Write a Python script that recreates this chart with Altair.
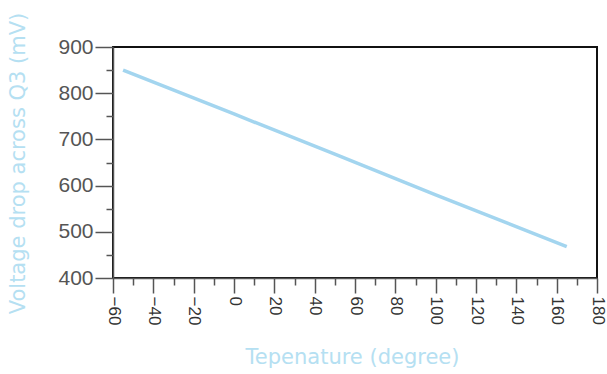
import altair as alt
import pandas as pd

# Temperature sweep (degrees) and the voltage drop across Q3 (mV)
temperature = [-55, 0, 50, 100, 165]
voltage_mv = [850, 755, 668, 580, 468]

df = pd.DataFrame({"temp": temperature, "vdrop": voltage_mv})

title_color = "#b5e0f2"
line_color = "#a3d5ef"
axis_gray = "#555555"

x_ticks = list(range(-60, 181, 10))
y_ticks = list(range(400, 901, 50))

chart = (
    alt.Chart(df)
    .mark_line(color=line_color, strokeWidth=3.5)
    .encode(
        x=alt.X(
            "temp:Q",
            scale=alt.Scale(domain=[-60, 180], nice=False, zero=False),
            axis=alt.Axis(
                title="Tepenature (degree)",
                values=x_ticks,
                labelExpr="datum.value % 20 == 0 ? format(datum.value, 'd') : ''",
                labelAngle=90,
                labelAlign="left",
                labelBaseline="middle",
                labelPadding=3,
                labelFont="Liberation Sans",
                labelFontSize=17,
                labelColor="#333333",
                tickSize={"condition": {"test": "datum.value % 20 == 0", "value": 15}, "value": 7},
                tickColor=axis_gray,
                tickWidth=1.5,
                domainColor=axis_gray,
                domainWidth=1.5,
                grid=False,
                titleFont="DejaVu Sans",
                titleFontSize=21,
                titleFontWeight="normal",
                titleColor=title_color,
                titleX=239,
                titleY=79,
                titleBaseline="middle",
                titleAlign="center",
            ),
        ),
        y=alt.Y(
            "vdrop:Q",
            scale=alt.Scale(domain=[400, 900], nice=False, zero=False),
            axis=alt.Axis(
                title="Voltage drop across Q3 (mV)",
                values=y_ticks,
                labelExpr="datum.value % 100 == 0 ? datum.label : ''",
                labelPadding=2,
                labelFont="Liberation Sans",
                labelFontSize=21,
                labelColor=axis_gray,
                tickSize={"condition": {"test": "datum.value % 100 == 0", "value": 18}, "value": 7},
                tickColor=axis_gray,
                tickWidth=1.5,
                domainColor=axis_gray,
                domainWidth=1.5,
                grid=False,
                titleFont="DejaVu Sans",
                titleFontSize=21,
                titleFontWeight="normal",
                titleColor=title_color,
                titleX=-95,
                titleY=116,
                titleBaseline="middle",
                titleAlign="center",
                titleAngle=-90,
            ),
        ),
    )
    .properties(
        width=484,
        height=231,
        autosize=alt.AutoSizeParams(type="none"),
        padding={"left": 113, "top": 47, "right": 10, "bottom": 96},
    )
    .configure(background="white")
    .configure_view(stroke="#111111", strokeWidth=2)
)

chart.save("out.html", embed_options={"renderer": "svg", "actions": False})
